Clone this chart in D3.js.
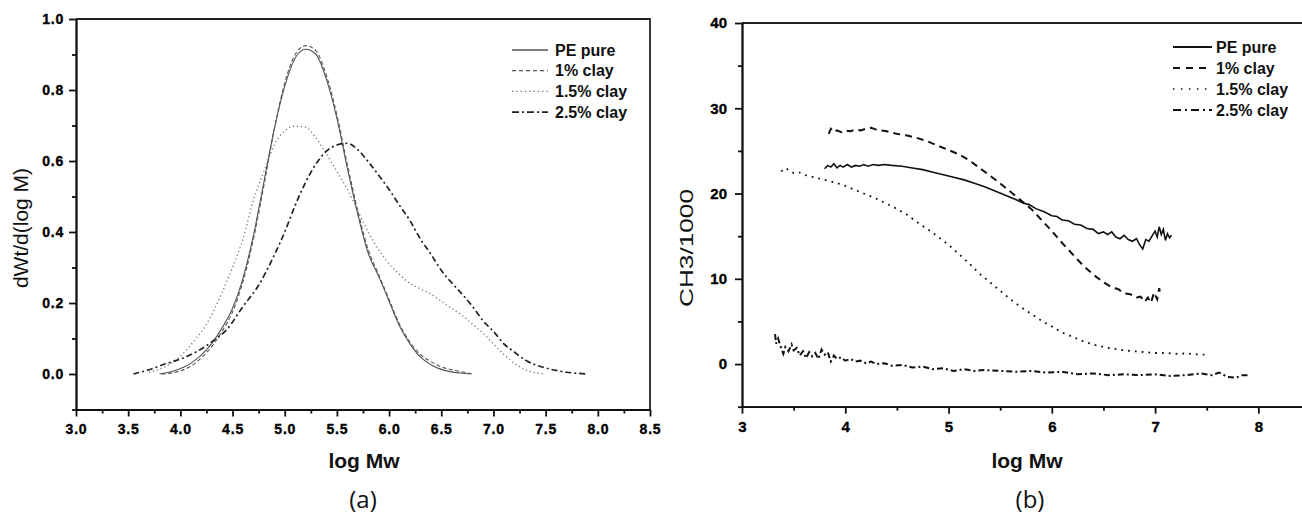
<!DOCTYPE html>
<html>
<head>
<meta charset="utf-8">
<script src="https://cdn.jsdelivr.net/npm/d3@7"></script>
<style>
  body { margin: 0; background: #fff; }
  svg { display: block; }
  .tick text { font-family: "Liberation Sans", Arial, sans-serif; font-weight: bold; fill: #000; stroke: #000; stroke-width: 0.35px; }
  .axis path, .axis line { stroke: #111; stroke-width: 1.8; }
</style>
</head>
<body>
<div id="chart"></div>
<script>
// legend names, same for both panels
var seriesNames = ["PE pure", "1% clay", "1.5% clay", "2.5% clay"];

// panel (a): dWt/d(log M) against log Mw, [logMw, value]
var gpcPure = [[3.80,0.000],[3.95,0.010],[4.10,0.030],[4.25,0.068],[4.40,0.130],[4.50,0.185],[4.60,0.270],
  [4.70,0.390],[4.80,0.540],[4.90,0.690],[5.00,0.810],[5.10,0.890],[5.20,0.915],[5.30,0.900],[5.40,0.830],
  [5.50,0.720],[5.60,0.580],[5.70,0.450],[5.80,0.340],[5.90,0.275],[6.00,0.205],[6.10,0.135],[6.20,0.085],
  [6.30,0.048],[6.40,0.026],[6.50,0.013],[6.60,0.006],[6.70,0.002],[6.78,0.000]];
var gpcClay1 = [[3.82,0.000],[3.95,0.005],[4.10,0.022],[4.25,0.060],[4.40,0.120],[4.50,0.175],[4.60,0.260],
  [4.70,0.380],[4.80,0.530],[4.90,0.690],[5.00,0.820],[5.10,0.900],[5.20,0.925],[5.30,0.910],[5.40,0.840],
  [5.50,0.730],[5.60,0.590],[5.70,0.460],[5.80,0.350],[5.90,0.280],[6.00,0.210],[6.10,0.140],[6.20,0.090],
  [6.30,0.055],[6.40,0.035],[6.50,0.020],[6.60,0.012],[6.70,0.006],[6.80,0.000]];
var gpcClay15 = [[3.70,0.005],[3.85,0.020],[4.00,0.050],[4.15,0.100],[4.25,0.140],[4.40,0.230],[4.50,0.300],
  [4.60,0.380],[4.70,0.490],[4.80,0.570],[4.90,0.645],[5.00,0.685],[5.10,0.698],[5.20,0.695],[5.30,0.665],
  [5.40,0.620],[5.50,0.570],[5.60,0.520],[5.70,0.460],[5.80,0.400],[5.90,0.350],[6.00,0.310],[6.10,0.280],
  [6.20,0.255],[6.30,0.240],[6.40,0.225],[6.50,0.205],[6.60,0.185],[6.70,0.165],[6.80,0.140],[6.90,0.115],
  [7.00,0.085],[7.10,0.055],[7.20,0.030],[7.30,0.013],[7.40,0.004],[7.50,0.000]];
var gpcClay25 = [[3.55,0.000],[3.70,0.012],[3.85,0.028],[4.00,0.042],[4.15,0.062],[4.30,0.090],[4.45,0.127],
  [4.60,0.190],[4.75,0.250],[4.90,0.335],[5.00,0.400],[5.10,0.475],[5.20,0.540],[5.30,0.592],[5.40,0.628],
  [5.50,0.645],[5.60,0.650],[5.70,0.632],[5.80,0.598],[5.90,0.560],[6.00,0.520],[6.10,0.475],[6.20,0.432],
  [6.30,0.380],[6.40,0.338],[6.50,0.292],[6.60,0.257],[6.70,0.225],[6.80,0.190],[6.90,0.150],[7.00,0.120],
  [7.10,0.085],[7.20,0.062],[7.30,0.040],[7.40,0.026],[7.50,0.017],[7.60,0.010],[7.70,0.005],[7.80,0.002],
  [7.90,0.000]];

// panel (b): CH3/1000 against log Mw
var ch3Pure = [[3.80,22.9],[3.83,23.3],[3.86,23.1],[3.89,23.5],[3.92,23.0],[3.95,23.3],[3.98,23.1],[4.02,23.4],
  [4.06,23.1],[4.10,23.3],[4.14,23.2],[4.18,23.4],[4.22,23.2],[4.27,23.4],[4.32,23.3],[4.38,23.4],[4.45,23.3],
  [4.55,23.2],[4.65,23.0],[4.75,22.8],[4.85,22.5],[4.95,22.2],[5.05,21.9],[5.15,21.6],[5.25,21.2],[5.35,20.8],
  [5.45,20.3],[5.55,19.8],[5.65,19.3],[5.72,18.9],[5.78,18.7],[5.85,18.2],[5.92,17.9],[6.00,17.4],[6.05,17.3],
  [6.10,16.9],[6.16,16.8],[6.22,16.4],[6.28,16.3],[6.34,15.9],[6.40,15.8],[6.45,15.3],[6.50,15.5],[6.54,15.2],
  [6.58,15.5],[6.62,14.9],[6.66,14.7],[6.70,15.1],[6.74,14.6],[6.78,14.4],[6.82,14.7],[6.85,14.0],[6.88,13.5],
  [6.91,14.6],[6.94,14.4],[6.97,15.0],[7.00,15.6],[7.02,14.9],[7.04,16.1],[7.06,15.2],[7.08,15.8],[7.10,14.5],
  [7.12,15.3],[7.14,14.8],[7.16,15.1]];
var ch3Clay1 = [[3.84,27.0],[3.86,27.6],[3.89,27.2],[3.92,27.4],[3.96,27.2],[4.00,27.4],[4.05,27.3],[4.10,27.5],
  [4.15,27.4],[4.20,27.6],[4.25,27.7],[4.30,27.5],[4.40,27.3],[4.50,27.0],[4.60,26.8],[4.70,26.5],[4.80,26.1],
  [4.90,25.6],[5.00,25.1],[5.10,24.6],[5.20,23.9],[5.30,23.0],[5.40,22.1],[5.50,21.2],[5.60,20.2],[5.70,19.2],
  [5.80,18.2],[5.90,16.9],[6.00,15.6],[6.10,14.2],[6.20,12.9],[6.30,11.6],[6.40,10.5],[6.50,9.6],[6.58,9.0],
  [6.64,8.8],[6.70,8.3],[6.76,8.2],[6.82,7.8],[6.86,7.9],[6.90,7.3],[6.93,7.8],[6.96,7.2],[6.99,8.4],[7.02,7.6],
  [7.04,8.9],[7.05,8.2]];
var ch3Clay15 = [[3.38,22.6],[3.42,23.0],[3.46,22.7],[3.50,22.4],[3.55,22.5],[3.60,22.2],[3.70,21.9],[3.80,21.6],
  [3.90,21.3],[4.00,20.9],[4.10,20.4],[4.20,19.9],[4.30,19.4],[4.40,18.8],[4.50,18.2],[4.60,17.5],[4.70,16.6],
  [4.80,15.8],[4.90,14.9],[5.00,14.0],[5.10,12.9],[5.20,11.8],[5.30,10.6],[5.40,9.6],[5.50,8.6],[5.60,7.6],
  [5.70,6.7],[5.80,5.9],[5.90,5.1],[6.00,4.4],[6.10,3.7],[6.20,3.2],[6.30,2.7],[6.40,2.3],[6.50,2.0],[6.60,1.8],
  [6.70,1.6],[6.80,1.5],[6.90,1.4],[7.00,1.3],[7.10,1.3],[7.20,1.2],[7.30,1.25],[7.40,1.15],[7.48,1.1]];
var ch3Clay25 = [[3.32,3.5],[3.33,2.4],[3.35,3.0],[3.37,2.2],[3.40,1.2],[3.42,2.0],[3.45,1.5],[3.48,2.3],[3.50,1.6],
  [3.53,1.9],[3.56,1.0],[3.59,1.5],[3.62,0.7],[3.65,1.4],[3.68,0.9],[3.71,1.3],[3.74,0.6],[3.77,1.7],[3.80,1.1],
  [3.83,1.4],[3.86,0.3],[3.89,1.0],[3.92,0.6],[3.96,0.8],[4.00,0.4],[4.05,0.6],[4.10,0.3],[4.15,0.4],[4.20,0.1],
  [4.25,0.3],[4.30,0.0],[4.38,0.1],[4.45,-0.2],[4.55,-0.1],[4.65,-0.4],[4.75,-0.3],[4.85,-0.6],[4.95,-0.5],
  [5.05,-0.8],[5.15,-0.6],[5.25,-0.8],[5.35,-0.7],[5.50,-0.8],[5.65,-0.9],[5.80,-0.8],[5.95,-1.0],[6.10,-0.9],
  [6.25,-1.2],[6.40,-1.1],[6.55,-1.3],[6.70,-1.2],[6.85,-1.3],[7.00,-1.2],[7.15,-1.4],[7.30,-1.3],[7.45,-1.1],
  [7.55,-1.3],[7.62,-1.0],[7.70,-1.5],[7.78,-1.6],[7.85,-1.3],[7.90,-1.3]];

// tick values
var aXMajor = [3.0, 3.5, 4.0, 4.5, 5.0, 5.5, 6.0, 6.5, 7.0, 7.5, 8.0, 8.5];
var aXMinor = [3.25, 3.75, 4.25, 4.75, 5.25, 5.75, 6.25, 6.75, 7.25, 7.75, 8.25];
var aYMajor = [0.0, 0.2, 0.4, 0.6, 0.8, 1.0];
var aYMinor = [-0.1, 0.1, 0.3, 0.5, 0.7, 0.9];
var bXMajor = [3, 4, 5, 6, 7, 8];
var bXMinor = [3.5, 4.5, 5.5, 6.5, 7.5, 8.5];
var bYMajor = [0, 10, 20, 30, 40];
var bYMinor = [-5, 5, 15, 25, 35];

var svg = d3.select("#chart")
    .append("svg")
        .attr("width", 1302)
        .attr("height", 515);

function drawPanel(opt) {
    var x = d3.scaleLinear().domain(opt.xDomain).range(opt.xRange),
        y = d3.scaleLinear().domain(opt.yDomain).range(opt.yRange);
    var g = svg.append("g");

    // frame (top + right)
    g.append("path")
        .attr("d", "M" + opt.xRange[0] + "," + opt.yRange[1] + "H" + opt.xRange[1] + "V" + opt.yRange[0])
        .attr("fill", "none")
        .attr("stroke", "#222")
        .attr("stroke-width", 1.8);

    // minor ticks first, then the labelled ones
    g.append("g").classed("axis", true)
        .attr("transform", "translate(0," + opt.yRange[0] + ")")
        .call(d3.axisBottom(x).tickValues(opt.xMinor).tickSize(4).tickSizeOuter(0).tickFormat(""));
    g.append("g").classed("axis", true)
        .attr("transform", "translate(" + opt.xRange[0] + ",0)")
        .call(d3.axisLeft(y).tickValues(opt.yMinor).tickSize(4).tickSizeOuter(0).tickFormat(""));

    g.append("g").classed("axis", true)
        .attr("transform", "translate(0," + opt.yRange[0] + ")")
        .call(d3.axisBottom(x).tickValues(opt.xMajor).tickSize(7).tickSizeOuter(0)
            .tickPadding(opt.xPad).tickFormat(opt.fmt));
    g.append("g").classed("axis", true)
        .attr("transform", "translate(" + opt.xRange[0] + ",0)")
        .call(d3.axisLeft(y).tickValues(opt.yMajor).tickSize(7).tickSizeOuter(0)
            .tickPadding(opt.yPad).tickFormat(opt.fmt));
    g.selectAll(".tick text")
        .style("font-size", opt.tickFont + "px")
        .style("letter-spacing", opt.letterSpacing + "px");

    g.append("clipPath").attr("id", opt.id + "-clip")
        .append("rect")
            .attr("x", opt.xRange[0]).attr("y", opt.yRange[1])
            .attr("width", opt.xRange[1] - opt.xRange[0])
            .attr("height", opt.yRange[0] - opt.yRange[1]);

    var line = d3.line()
        .x(function(d) { return x(d[0]); })
        .y(function(d) { return y(d[1]); })
        .curve(opt.curve);

    g.append("g")
        .attr("clip-path", "url(#" + opt.id + "-clip)")
        .selectAll("path")
        .data(opt.series)
        .enter()
        .append("path")
            .attr("d", function(d) { return line(d.values); })
            .attr("fill", "none")
            .attr("stroke", function(d) { return d.style.color; })
            .attr("stroke-width", function(d) { return d.style.width; })
            .attr("stroke-dasharray", function(d) { return d.style.dash; });

    // legend
    var legend = g.append("g").classed("legend", true)
        .selectAll(".item")
        .data(opt.series)
        .enter()
        .append("g")
            .classed("item", true)
            .attr("transform", function(d, i) {
                return "translate(0," + (opt.legend.y + i * opt.legend.step) + ")";
            });
    legend.append("line")
        .attr("x1", opt.legend.x1).attr("x2", opt.legend.x2)
        .attr("y1", 0).attr("y2", 0)
        .attr("stroke", function(d) { return d.style.color; })
        .attr("stroke-width", function(d) { return d.style.lw; })
        .attr("stroke-dasharray", function(d) { return d.style.ldash; });
    legend.append("text")
        .attr("x", opt.legend.tx)
        .attr("y", 0)
        .attr("dy", "0.36em")
        .text(function(d) { return d.name; })
        .style("font-family", "'Liberation Sans', Arial, sans-serif")
        .style("font-weight", "bold")
        .style("font-size", "16px")
        .style("fill", "#111");

    // axis titles
    g.append("text")
        .attr("x", opt.xTitle[0]).attr("y", opt.xTitle[1])
        .attr("text-anchor", "middle")
        .text("log Mw")
        .style("font-family", "'Liberation Sans', Arial, sans-serif")
        .style("font-weight", "bold")
        .style("font-size", "21px")
        .style("fill", "#111");
    var yt = g.append("text")
        .attr("transform", "translate(" + opt.yTitle[0] + "," + opt.yTitle[1] + ") rotate(-90)")
        .attr("text-anchor", "middle")
        .text(opt.yLabel)
        .style("font-family", "'Liberation Sans', Arial, sans-serif")
        .style("font-size", opt.yTitleFont + "px")
        .style("fill", "#111");
    if (opt.yTitleLen) {
        yt.attr("textLength", opt.yTitleLen).attr("lengthAdjust", "spacingAndGlyphs");
    }
    g.append("text")
        .attr("x", opt.panel[0]).attr("y", opt.panel[1])
        .attr("text-anchor", "middle")
        .text(opt.panelLabel)
        .style("font-family", "'Open Sans', sans-serif")
        .style("font-size", "24px")
        .style("fill", "#111");
}

var aStyles = [
    {color: "#555", width: 1.1, dash: null, lw: 1.3, ldash: null},
    {color: "#555", width: 1.1, dash: "4,2.5", lw: 1.3, ldash: "4,3"},
    {color: "#777", width: 1.4, dash: "1.2,2.8", lw: 1.3, ldash: "1.3,3"},
    {color: "#222", width: 1.7, dash: "6,3,2,3", lw: 1.8, ldash: "7,3,2,3"}
];
var bStyles = [
    {color: "#111", width: 1.6, dash: null, lw: 1.8, ldash: null},
    {color: "#111", width: 2, dash: "7,5", lw: 1.8, ldash: "7,6"},
    {color: "#111", width: 1.8, dash: "1.8,5", lw: 1.5, ldash: "1.5,6.5"},
    {color: "#111", width: 2, dash: "6,3,2,3", lw: 1.8, ldash: "8,4,2,4"}
];

drawPanel({
    id: "a",
    xDomain: [3, 8.5], xRange: [76, 650],
    yDomain: [-0.1, 1.0], yRange: [409.5, 19],
    xMajor: aXMajor, xMinor: aXMinor, yMajor: aYMajor, yMinor: aYMinor,
    fmt: d3.format(".1f"), tickFont: 14, letterSpacing: 0.8, xPad: 8, yPad: 5,
    curve: d3.curveMonotoneX,
    series: [gpcPure, gpcClay1, gpcClay15, gpcClay25].map(function(v, i) {
        return {name: seriesNames[i], values: v, style: aStyles[i]};
    }),
    legend: {x1: 512, x2: 548, tx: 555, y: 50, step: 20.7},
    xTitle: [364, 468], yTitle: [28, 228], yLabel: "dWt/d(log M)", yTitleFont: 21,
    panel: [363, 508], panelLabel: "(a)"
});

drawPanel({
    id: "b",
    xDomain: [3, 8.5], xRange: [742, 1310],
    yDomain: [-5, 40], yRange: [406.7, 23],
    xMajor: bXMajor, xMinor: bXMinor, yMajor: bYMajor, yMinor: bYMinor,
    fmt: d3.format("d"), tickFont: 15, letterSpacing: 0, xPad: 8, yPad: 8,
    curve: d3.curveLinear,
    series: [ch3Pure, ch3Clay1, ch3Clay15, ch3Clay25].map(function(v, i) {
        return {name: seriesNames[i], values: v, style: bStyles[i]};
    }),
    legend: {x1: 1173, x2: 1212, tx: 1216, y: 47, step: 21},
    xTitle: [1027, 468], yTitle: [693, 248], yLabel: "CH3/1000", yTitleFont: 19, yTitleLen: 118,
    panel: [1030, 508], panelLabel: "(b)"
});
</script>
</body>
</html>
